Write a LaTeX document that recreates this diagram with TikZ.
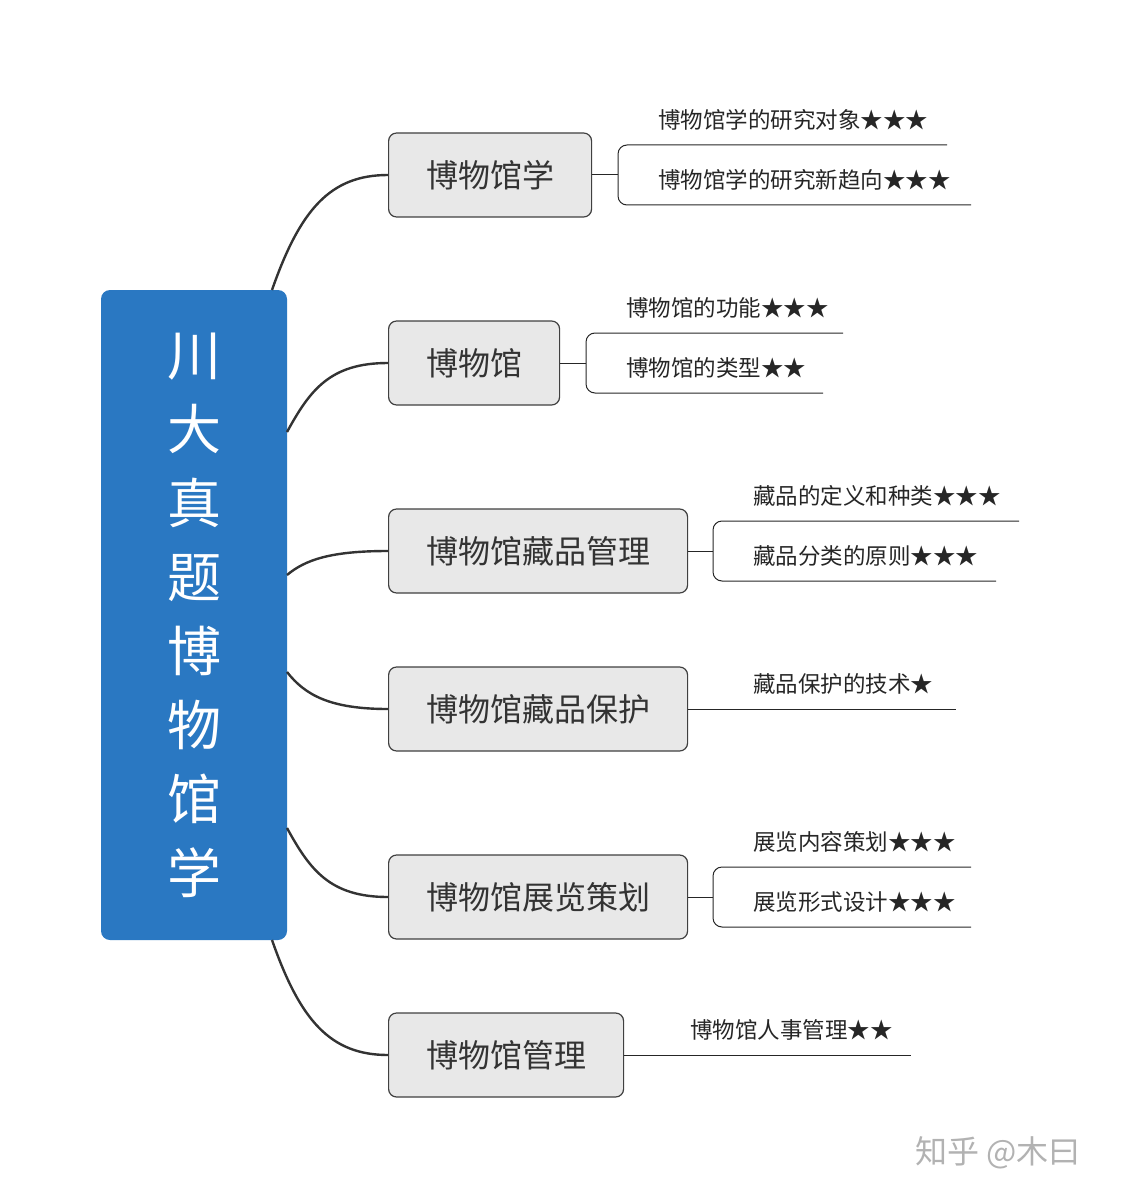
\documentclass[tikz,border=0pt]{standalone}
\usepackage{fontspec}
\setmainfont{Noto Sans CJK SC}
\begin{document}
\begin{tikzpicture}[x=1pt,y=-1pt,
  br/.style={draw=black!75,line width=1.2pt,fill=black!9,rounded corners=8pt,anchor=west,minimum height=84pt,inner sep=0pt,font=\fontsize{32}{32}\selectfont,text=black!80},
  conn/.style={draw=black!80,line width=2.4pt},
  leaf/.style={draw=black!85,line width=1pt},
  lt/.style={anchor=west,font=\fontsize{22.5}{22.5}\selectfont,inner sep=0pt,text=black!85}]
\useasboundingbox (0,0) rectangle (1120,1198);
\node[fill={rgb,255:red,42;green,120;blue,194},rounded corners=9pt,minimum width=186pt,minimum height=650pt,inner sep=0pt] (root) at (194,615) {};
\node[text=white,font=\fontsize{54}{74}\selectfont,align=center] (rt) at (194,615) {川\\大\\真\\题\\博\\物\\馆\\学};
\node[br,minimum width=203pt] (b1) at (388,175) {博物馆学};
\node[br,minimum width=171pt] (b2) at (388,363) {博物馆};
\node[br,minimum width=299pt] (b3) at (388,551) {博物馆藏品管理};
\node[br,minimum width=299pt] (b4) at (388,709) {博物馆藏品保护};
\node[br,minimum width=299pt] (b5) at (388,897) {博物馆展览策划};
\node[br,minimum width=235pt] (b6) at (388,1055) {博物馆管理};
\coordinate (r1) at (272,290);
\coordinate (r2) at (287,432);
\coordinate (r3) at (287,575);
\coordinate (r4) at (287,672);
\coordinate (r5) at (287,828);
\coordinate (r6) at (272,940);
\draw[conn] (r1) .. controls (300,210) and (330,175) .. (b1.west);
\draw[conn] (r2) .. controls (310,390) and (330,363) .. (b2.west);
\draw[conn] (r3) .. controls (305,560) and (330,551) .. (b3.west);
\draw[conn] (r4) .. controls (305,695) and (330,709) .. (b4.west);
\draw[conn] (r5) .. controls (310,870) and (330,897) .. (b5.west);
\draw[conn] (r6) .. controls (300,1020) and (330,1055) .. (b6.west);
% leaves
\coordinate (k1) at (618,175);
\draw[leaf] (b1.east) -- (k1);
\draw[leaf,rounded corners=9pt] (947,145) -- (618,145) -- (618,205) -- (971,205);
\node[lt] (l11) at (658,120) {博物馆学的研究对象★★★};
\node[lt] (l12) at (658,180) {博物馆学的研究新趋向★★★};
\coordinate (k2) at (586,363);
\draw[leaf] (b2.east) -- (k2);
\draw[leaf,rounded corners=9pt] (843,333) -- (586,333) -- (586,393) -- (823,393);
\node[lt] (l21) at (626,308) {博物馆的功能★★★};
\node[lt] (l22) at (626,368) {博物馆的类型★★};
\coordinate (k3) at (713,551);
\draw[leaf] (b3.east) -- (k3);
\draw[leaf,rounded corners=9pt] (1019,521) -- (713,521) -- (713,581) -- (996,581);
\node[lt] (l31) at (753,496) {藏品的定义和种类★★★};
\node[lt] (l32) at (753,556) {藏品分类的原则★★★};
\coordinate (e4) at (956,709);
\draw[leaf] (b4.east) -- (e4);
\node[lt] (l41) at (753,684) {藏品保护的技术★};
\coordinate (k5) at (713,897);
\draw[leaf] (b5.east) -- (k5);
\draw[leaf,rounded corners=9pt] (971,867) -- (713,867) -- (713,927) -- (971,927);
\node[lt] (l51) at (753,842) {展览内容策划★★★};
\node[lt] (l52) at (753,902) {展览形式设计★★★};
\coordinate (e6) at (911,1055);
\draw[leaf] (b6.east) -- (e6);
\node[lt] (l61) at (690,1030) {博物馆人事管理★★};
\node[anchor=west,text=black!30,font=\fontsize{32}{32}\selectfont,inner sep=0pt] (wm) at (915,1153) {知乎 @木曰};
\end{tikzpicture}
\end{document}
